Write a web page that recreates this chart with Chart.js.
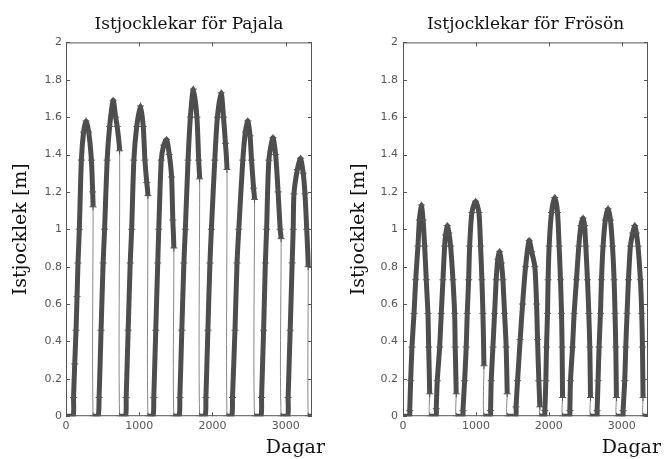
<!DOCTYPE html>
<html>
<head>
<meta charset="utf-8">
<script src="https://cdn.jsdelivr.net/npm/chart.js@4.4.0/dist/chart.umd.min.js"></script>
<style>
  body { margin: 0; background: #fff; }
  #wrap { position: relative; width: 669px; height: 459px; }
  canvas { position: absolute; top: 0; }
</style>
</head>
<body>
<div id="wrap">
  <canvas id="pajala" width="335" height="459" style="left:0"></canvas>
  <canvas id="froson" width="334" height="459" style="left:335px"></canvas>
</div>
<script>
// tick values and labels
const xTicks = [0, 1000, 2000, 3000];
const xTickLabels = ['0', '1000', '2000', '3000'];
const yTicks = [0, 0.2, 0.4, 0.6, 0.8, 1, 1.2, 1.4, 1.6, 1.8, 2];
const yTickLabels = ['0', '0.2', '0.4', '0.6', '0.8', '1', '1.2', '1.4', '1.6', '1.8', '2'];

// Pajala: day number and ice thickness (m)
const pajalaDays = [
  0, 96, 103, 119, 137, 151, 164, 182, 210, 240, 274, 310, 347, 364, 370, 370,
  438, 452, 479, 507, 527, 562, 596, 644, 678, 699, 732, 732,
  812, 822, 849, 877, 897, 927, 966, 1018, 1055, 1078, 1103, 1119, 1119,
  1188, 1199, 1226, 1253, 1267, 1301, 1335, 1374, 1411, 1442, 1459, 1473, 1473,
  1544, 1555, 1582, 1610, 1630, 1667, 1699, 1740, 1788, 1812, 1825, 1825,
  1900, 1911, 1938, 1966, 1986, 2032, 2068, 2119, 2151, 2178, 2199, 2199,
  2264, 2274, 2308, 2336, 2360, 2415, 2450, 2484, 2514, 2534, 2562, 2575, 2575,
  2662, 2671, 2699, 2723, 2740, 2771, 2826, 2863, 2897, 2925, 2938, 2938,
  3027, 3034, 3062, 3089, 3103, 3114, 3160, 3205, 3240, 3264, 3288, 3308, 3308, 3360
];
const pajalaIce = [
  0, 0, 0.10, 0.28, 0.46, 0.64, 0.82, 1.0, 1.37, 1.52, 1.58, 1.52, 1.37, 1.20, 1.12, 0,
  0, 0.10, 0.46, 0.82, 1.0, 1.37, 1.55, 1.69, 1.60, 1.55, 1.42, 0,
  0, 0.10, 0.46, 0.82, 1.0, 1.37, 1.55, 1.66, 1.55, 1.37, 1.25, 1.18, 0,
  0, 0.10, 0.46, 0.82, 1.0, 1.37, 1.45, 1.48, 1.40, 1.28, 1.05, 0.90, 0,
  0, 0.10, 0.46, 0.82, 1.0, 1.37, 1.60, 1.75, 1.60, 1.37, 1.27, 0,
  0, 0.10, 0.46, 0.82, 1.0, 1.37, 1.60, 1.73, 1.60, 1.46, 1.32, 0,
  0, 0.10, 0.46, 0.82, 1.0, 1.37, 1.52, 1.58, 1.50, 1.37, 1.22, 1.16, 0,
  0, 0.10, 0.46, 0.82, 1.0, 1.37, 1.49, 1.40, 1.20, 1.0, 0.95, 0,
  0, 0.10, 0.46, 0.82, 1.0, 1.19, 1.32, 1.38, 1.30, 1.19, 1.0, 0.80, 0, 0
];

// Frösön
const frosonDays = [
  0, 88, 92, 105, 123, 151, 174, 205, 225, 251, 275, 297, 319, 342, 352, 366, 366,
  452, 456, 470, 503, 525, 548, 571, 585, 607, 630, 653, 685, 708, 716, 730, 730,
  818, 822, 845, 867, 881, 900, 914, 945, 996, 1041, 1064, 1082, 1096, 1110, 1110,
  1197, 1201, 1210, 1233, 1256, 1278, 1300, 1325, 1350, 1370, 1393, 1415, 1429, 1429,
  1545, 1550, 1571, 1607, 1640, 1681, 1730, 1765, 1808, 1832, 1845, 1863, 1877, 1877,
  1940, 1945, 1959, 1968, 1982, 1990, 2004, 2037, 2082, 2119, 2141, 2160, 2174, 2182, 2188, 2188,
  2283, 2288, 2297, 2325, 2347, 2379, 2411, 2440, 2470, 2490, 2507, 2530, 2548, 2562, 2571, 2571,
  2657, 2662, 2675, 2689, 2708, 2722, 2744, 2775, 2812, 2845, 2873, 2895, 2908, 2918, 2927, 2927,
  3013, 3018, 3041, 3055, 3073, 3092, 3119, 3150, 3178, 3200, 3223, 3256, 3274, 3284, 3292, 3292, 3360
];
const frosonIce = [
  0, 0, 0.03, 0.19, 0.37, 0.55, 0.73, 0.91, 1.05, 1.13, 1.05, 0.91, 0.73, 0.55, 0.37, 0.12, 0,
  0, 0.04, 0.19, 0.37, 0.55, 0.73, 0.91, 0.97, 1.02, 0.98, 0.91, 0.73, 0.55, 0.37, 0.12, 0,
  0, 0.03, 0.19, 0.37, 0.55, 0.73, 0.91, 1.09, 1.15, 1.09, 0.91, 0.73, 0.55, 0.27, 0,
  0, 0.03, 0.19, 0.37, 0.55, 0.73, 0.84, 0.88, 0.82, 0.73, 0.55, 0.37, 0.12, 0,
  0, 0.05, 0.19, 0.41, 0.60, 0.80, 0.94, 0.88, 0.80, 0.60, 0.41, 0.19, 0.05, 0,
  0, 0.03, 0.19, 0.37, 0.55, 0.73, 0.91, 1.09, 1.17, 1.09, 0.91, 0.73, 0.55, 0.37, 0.10, 0,
  0, 0.03, 0.19, 0.37, 0.55, 0.73, 0.91, 1.02, 1.06, 1.02, 0.91, 0.73, 0.55, 0.37, 0.10, 0,
  0, 0.03, 0.19, 0.37, 0.55, 0.73, 0.91, 1.05, 1.11, 1.05, 0.91, 0.73, 0.55, 0.37, 0.10, 0,
  0, 0.03, 0.19, 0.37, 0.55, 0.73, 0.91, 0.98, 1.02, 0.98, 0.91, 0.73, 0.55, 0.37, 0.10, 0, 0
];

const lineColor = '#4d4d4d';

// matlab style box with inward ticks
const boxPlugin = {
  id: 'box',
  afterDatasetsDraw(chart) {
    const { ctx, chartArea: a, scales: { x, y } } = chart;
    ctx.save();
    ctx.strokeStyle = '#555';
    ctx.lineWidth = 1;
    ctx.strokeRect(a.left + 0.5, a.top + 0.5, a.right - a.left - 1, a.bottom - a.top - 1);
    ctx.beginPath();
    xTicks.forEach(v => {
      const px = Math.round(x.getPixelForValue(v)) + 0.5;
      ctx.moveTo(px, a.bottom); ctx.lineTo(px, a.bottom - 4);
      ctx.moveTo(px, a.top); ctx.lineTo(px, a.top + 4);
    });
    yTicks.forEach(v => {
      const py = Math.round(y.getPixelForValue(v)) + 0.5;
      ctx.moveTo(a.left, py); ctx.lineTo(a.left + 4, py);
      ctx.moveTo(a.right, py); ctx.lineTo(a.right - 4, py);
    });
    ctx.stroke();
    ctx.restore();
  }
};

function makeChart(id, title, days, ice, dims) {
  const ctx = document.getElementById(id).getContext('2d');
  return new Chart(ctx, {
    type: 'line',
    data: {
      datasets: [{
        data: days.map((d, i) => ({ x: d, y: ice[i] })),
        borderColor: lineColor,
        borderWidth: 5,
        tension: 0.25,
        pointStyle: 'cross',
        pointRadius: 3.5,
        pointBorderWidth: 1,
        pointBorderColor: '#555',
        pointBackgroundColor: '#555',
        segment: {
          // the sudden break-up is a thin grey line
          borderWidth: c => c.p0.parsed.x === c.p1.parsed.x ? 1 : 5,
          borderColor: c => c.p0.parsed.x === c.p1.parsed.x ? '#888' : lineColor
        }
      }]
    },
    options: {
      responsive: false,
      animation: false,
      layout: { padding: { left: 0, top: 0, right: dims.padRight, bottom: 0 } },
      plugins: {
        legend: { display: false },
        tooltip: { enabled: false },
        title: {
          display: true, text: title, fullSize: false, color: '#111',
          font: { family: 'DejaVu Serif', size: 17, weight: 'normal' },
          padding: { top: 14, bottom: 8 }
        },
        subtitle: {
          display: true, text: 'Dagar', position: 'bottom', align: 'end', color: '#111',
          font: { family: 'DejaVu Serif', size: 19, weight: 'normal' },
          padding: { top: 2, bottom: 0 }
        }
      },
      scales: {
        x: {
          type: 'linear', min: 0, max: 3360,
          grid: { display: false, drawTicks: false },
          border: { display: false },
          afterBuildTicks: s => { s.ticks = xTicks.map(v => ({ value: v })); },
          afterFit: s => { s.height = 18; },
          ticks: {
            callback: v => xTickLabels[xTicks.indexOf(v)],
            padding: 3, maxRotation: 0, autoSkip: false, color: '#555',
            font: { family: 'DejaVu Sans', size: 11 }
          }
        },
        y: {
          type: 'linear', min: 0, max: 2,
          grid: { display: false, drawTicks: false },
          border: { display: false },
          afterBuildTicks: s => { s.ticks = yTicks.map(v => ({ value: v })); },
          afterFit: s => { s.width = dims.yWidth; },
          ticks: {
            callback: v => yTickLabels[yTicks.indexOf(v)],
            padding: dims.tickPad, autoSkip: false, color: '#555',
            font: { family: 'DejaVu Sans', size: 11 }
          },
          title: {
            display: true, text: 'Istjocklek [m]', color: '#111',
            font: { family: 'DejaVu Serif', size: 19, weight: 'normal' },
            padding: { top: dims.titlePad, bottom: 0 }
          }
        },
        yRight: {
          type: 'linear', axis: 'y', position: 'right', min: 0, max: 2,
          grid: { display: false, drawTicks: false },
          border: { display: false },
          ticks: { display: false },
          afterFit: s => { s.width = dims.rightWidth; }
        }
      }
    },
    plugins: [boxPlugin]
  });
}

makeChart('pajala', 'Istjocklekar för Pajala', pajalaDays, pajalaIce,
  { yWidth: 66, rightWidth: 13, padRight: 10, tickPad: 4, titlePad: 10 });
makeChart('froson', 'Istjocklekar för Frösön', frosonDays, frosonIce,
  { yWidth: 68, rightWidth: 13, padRight: 8, tickPad: 5, titlePad: 13 });
</script>
</body>
</html>
